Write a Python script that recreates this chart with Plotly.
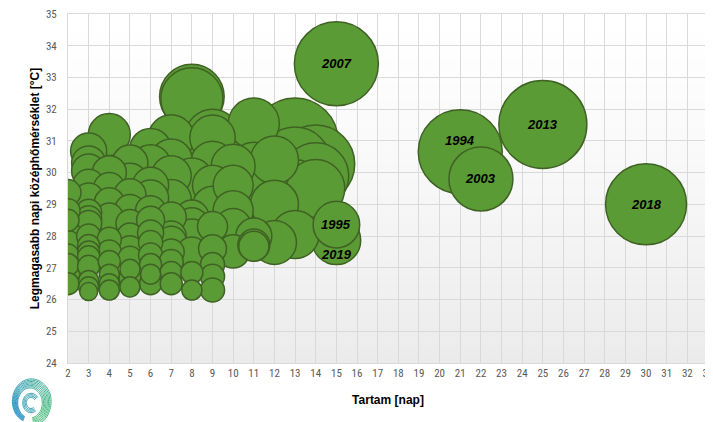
import math
import plotly.graph_objects as go

# ---- Data: heat-wave events -------------------------------------------
# duration [days], highest daily mean temperature [°C], intensity (bubble size)
duration = (
    [2] * 9 + [3] * 16 + [4] * 12 + [5] * 11 + [6] * 12 + [7] * 11 + [8] * 11
    + [9] * 10 + [10] * 5 + [11] * 6 + [12] * 3 + [13] * 4 + [14] * 3
    + [15, 15, 15, 21, 22, 25, 30]
)
max_temp = [
    29.37, 28.8, 28.5, 28.15, 27.8, 27.4, 27.1, 26.85, 26.5,
    30.68, 30.3, 30.05, 29.6, 29.2, 28.75, 28.55, 28.4, 28.0, 27.7, 27.5, 27.35, 27.05, 26.6, 26.4, 26.25,
    31.2, 30.0, 29.5, 29.05, 28.6, 28.3, 27.9, 27.5, 27.2, 26.8, 26.5, 26.3,
    30.3, 29.73, 29.3, 28.84, 28.4, 28.0, 27.6, 27.3, 26.95, 26.7, 26.4,
    30.73, 30.25, 29.6, 29.2, 28.8, 28.5, 28.1, 27.8, 27.4, 27.1, 26.8, 26.5,
    31.1, 30.4, 29.9, 29.15, 28.6, 28.0, 27.84, 27.5, 27.2, 26.85, 26.5,
    32.4, 32.33, 30.5, 29.8, 29.25, 28.6, 28.36, 28.0, 27.5, 26.85, 26.3,
    31.15, 31.1, 30.3, 29.6, 28.94, 28.3, 27.6, 27.1, 26.73, 26.3,
    30.2, 29.6, 28.8, 28.3, 27.52,
    31.55, 30.2, 29.3, 28.0, 27.72, 27.68,
    30.4, 29.0, 27.8,
    31.0, 30.3, 29.4, 28.05,
    30.27, 29.9, 29.5,
    33.43, 28.36, 27.87, 30.66, 29.8, 31.52, 29.0,
]
intensity = [
    9.6, 8.2, 6.9, 8.2, 8.2, 6.9, 6.9, 8.2, 6.9,
    18.4, 16.4, 16.4, 14.5, 12.8, 9.6, 9.6, 9.6, 8.2, 6.9, 6.9, 6.9, 6.9, 5.7, 5.7, 4.6,
    25.0, 16.4, 14.5, 12.8, 11.1, 12.8, 8.2, 8.2, 6.9, 5.7, 5.7, 5.7,
    18.4, 18.4, 14.5, 12.8, 11.1, 9.6, 9.6, 8.2, 5.7, 6.9, 5.7,
    25.0, 22.7, 18.4, 18.4, 12.8, 11.1, 9.6, 8.2, 8.2, 6.9, 5.7, 6.9,
    30.0, 25.0, 22.7, 22.7, 12.8, 12.8, 12.8, 9.6, 8.2, 6.9, 6.9,
    59.1, 54.5, 32.7, 25.0, 27.4, 16.4, 16.4, 16.4, 12.8, 6.9, 5.7,
    41.3, 29.2, 27.4, 22.7, 22.7, 12.8, 11.1, 8.2, 8.2, 8.2,
    27.4, 22.7, 22.7, 18.4, 15.8,
    36.9, 32.7, 32.7, 18.4, 14.5, 12.8,
    32.7, 32.7, 27.4,
    104.8, 73.5, 58.0, 32.7,
    86.2, 61.7, 47.7,
    100.0, 30.8, 33.5, 100.0, 58.0, 109.8, 93.0,
]

label_years = ["2007", "1994", "2003", "2013", "2018", "1995", "2019"]
label_duration = [15, 21, 22, 25, 30, 15, 15]
label_temp = [33.43, 30.66, 29.8, 31.52, 29.0, 28.36, 27.87]
label_yshift = [0, 11, 0, 0, 0, 0, -14]

x_ticks = list(range(2, 34))
y_ticks = list(range(24, 36))

# ---- Figure ---------------------------------------------------------------
order = sorted(range(len(duration)), key=lambda i: -intensity[i])
fig = go.Figure()
fig.add_trace(go.Scatter(
    x=[duration[i] for i in order],
    y=[max_temp[i] for i in order],
    mode="markers",
    marker=dict(
        size=[intensity[i] for i in order],
        sizemode="area",
        sizeref=2 / 70.56,
        color="#5b9b35",
        opacity=1,
        line=dict(color="#3f6224", width=1.5),
    ),
    hoverinfo="x+y",
    showlegend=False,
))

for yr, dx, ty, ys in zip(label_years, label_duration, label_temp, label_yshift):
    fig.add_annotation(
        x=dx, y=ty, text=yr, showarrow=False, yshift=ys,
        font=dict(family="Liberation Sans, Arial, sans-serif", size=13,
                  color="#000000", weight="bold", style="italic"),
    )

shapes = []
# gradient plot background
n = 40
for i in range(n):
    f = (i + 0.5) / n  # 0 bottom, 1 top
    g = int(round(255 - 20 * (1 - f) ** 1.3))
    shapes.append(dict(
        type="rect", xref="paper", yref="paper", x0=0, x1=1,
        y0=i / n, y1=(i + 1) / n + 0.002, layer="below",
        line=dict(width=0), fillcolor=f"rgb({g},{g},{g})",
    ))


# decorative logo (spiral) below the y axis, in pixels relative to the plot corner
def mix(c1, c2, t):
    return "rgb(%d,%d,%d)" % tuple(int(round(a + (b - a) * t)) for a, b in zip(c1, c2))


teal = (30, 140, 195)
green = (55, 180, 110)
cx, cy = -38, -40
for k in range(8):
    segs = 14
    a0, a1 = -80, 245
    for s in range(segs):
        ta = a0 + (a1 - a0) * s / segs
        tb = a0 + (a1 - a0) * (s + 1) / segs
        pts = []
        for j in range(6):
            ang = ta + (tb - ta) * j / 5
            u = (ang - a0) / (a1 - a0)
            thick = 1.6 * (1.0 - 0.6 * abs(u - 0.3) / 0.7)
            r = 15 + k * thick
            rad = math.radians(ang)
            pts.append((cx + 0.82 * r * math.cos(rad), cy + r * math.sin(rad)))
        path = "M " + " L ".join(f"{px:.2f},{py:.2f}" for px, py in pts)
        mid = (0.5 * (ta + tb) - a0) / (a1 - a0)
        col = mix(green, teal, min(1, max(0, (mid - 0.15) / 0.7)))
        shapes.append(dict(
            type="path", xref="paper", yref="paper", xsizemode="pixel",
            ysizemode="pixel", xanchor=0, yanchor=0, path=path,
            line=dict(color=col, width=0.9),
        ))
for k in range(4):
    pts = []
    for j in range(24):
        ang = 35 + 270 * j / 23
        r = 5.5 + k * 1.4
        rad = math.radians(ang)
        pts.append((cx + 1 + 0.85 * r * math.cos(rad), cy + r * math.sin(rad)))
    path = "M " + " L ".join(f"{px:.2f},{py:.2f}" for px, py in pts)
    shapes.append(dict(
        type="path", xref="paper", yref="paper", xsizemode="pixel",
        ysizemode="pixel", xanchor=0, yanchor=0, path=path,
        line=dict(color=mix(teal, green, 0.3), width=0.9),
    ))

tick_font = dict(family="Liberation Sans Narrow, Roboto Condensed, Arial Narrow, sans-serif",
                 size=11, color="#595959")
title_font = dict(family="Liberation Sans Narrow, Arial Narrow, sans-serif", size=12,
                  color="#000000", weight="bold")

# the page body adds an 8 px offset; the figure is sized to fit the remaining window
fig.update_layout(
    width=705, height=414,
    margin=dict(l=60, r=4.5, t=6, b=58.7),
    paper_bgcolor="#ffffff",
    plot_bgcolor="#ffffff",
    shapes=shapes,
    xaxis=dict(
        range=[2, 33], tickvals=x_ticks, ticktext=[str(v) for v in x_ticks],
        showgrid=True, gridcolor="#d9d9d9", gridwidth=1,
        showline=True, linecolor="#d9d9d9", linewidth=1, mirror=True,
        zeroline=False, ticks="", tickfont=tick_font, automargin=False,
        ticklabeloverflow="allow",
        title=dict(text="Tartam [nap]", font=title_font, standoff=16),
    ),
    yaxis=dict(
        range=[24, 35], tickvals=y_ticks, ticktext=[str(v) for v in y_ticks],
        showgrid=True, gridcolor="#d9d9d9", gridwidth=1,
        showline=True, linecolor="#d9d9d9", linewidth=1, mirror=True,
        zeroline=False, ticks="", tickfont=tick_font, ticklabelstandoff=8,
        automargin=False, ticklabeloverflow="allow",
        title=dict(text="Legmagasabb napi középhőmérséklet [°C]", font=title_font, standoff=3),
    ),
)

fig.write_html("out.html")
